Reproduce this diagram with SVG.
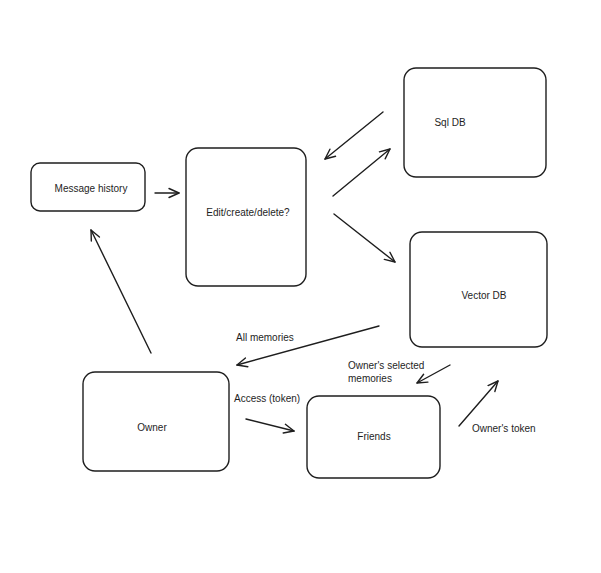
<svg xmlns="http://www.w3.org/2000/svg" width="601" height="573" viewBox="0 0 601 573">
<defs>
<style>
.box{fill:#fff;stroke:#1e1e1e;stroke-width:1.4}
.t{font-family:"Liberation Sans",Arial,sans-serif;font-size:10px;fill:#1e1e1e}
.m{text-anchor:middle}
.c{fill:none;stroke:#1e1e1e;stroke-width:1.4;stroke-linecap:round}
</style>
<marker id="ah" viewBox="0 0 12 12" refX="11" refY="6" markerWidth="12" markerHeight="12" markerUnits="userSpaceOnUse" orient="auto">
<path d="M1,1.5 L11,6 L1,10.5" fill="none" stroke="#1e1e1e" stroke-width="1.4" stroke-linecap="round" stroke-linejoin="round"/>
</marker>
</defs>
<rect width="601" height="573" fill="#fff"/>
<g id="message-history"><rect class="box" x="31" y="163" width="114" height="48" rx="9"/><text class="t m" x="91" y="192">Message history</text></g>
<g id="edit"><rect class="box" x="186" y="148" width="120" height="138" rx="12"/><text class="t m" x="248" y="216">Edit/create/delete?</text></g>
<g id="sql-db"><rect class="box" x="404" y="68" width="142" height="109" rx="12"/><text class="t m" x="450" y="126">Sql DB</text></g>
<g id="vector-db"><rect class="box" x="410" y="232" width="137" height="115" rx="12"/><text class="t m" x="484" y="299">Vector DB</text></g>
<g id="owner"><rect class="box" x="83" y="372" width="146" height="99" rx="12"/><text class="t m" x="152" y="431">Owner</text></g>
<g id="friends"><rect class="box" x="307" y="396" width="133" height="82" rx="12"/><text class="t m" x="374" y="440">Friends</text></g>
<g id="connectors">
<line class="c" x1="155" y1="193" x2="179" y2="193" marker-end="url(#ah)"/>
<line class="c" x1="151" y1="353" x2="91" y2="230" marker-end="url(#ah)"/>
<line class="c" x1="383" y1="112" x2="325" y2="159" marker-end="url(#ah)"/>
<line class="c" x1="333" y1="196" x2="390" y2="149" marker-end="url(#ah)"/>
<line class="c" x1="334" y1="214" x2="395" y2="262" marker-end="url(#ah)"/>
<line class="c" x1="379" y1="326" x2="237" y2="365" marker-end="url(#ah)"/>
<line class="c" x1="246" y1="419" x2="294" y2="431" marker-end="url(#ah)"/>
<line class="c" x1="450" y1="365" x2="417" y2="383" marker-end="url(#ah)"/>
<line class="c" x1="459" y1="426" x2="498" y2="381" marker-end="url(#ah)"/>
<text class="t" x="236" y="341">All memories</text>
<text class="t" x="234" y="402">Access (token)</text>
<text class="t" x="348" y="369">Owner's selected</text>
<text class="t" x="348" y="382">memories</text>
<text class="t" x="472" y="432">Owner's token</text>
</g>
</svg>
